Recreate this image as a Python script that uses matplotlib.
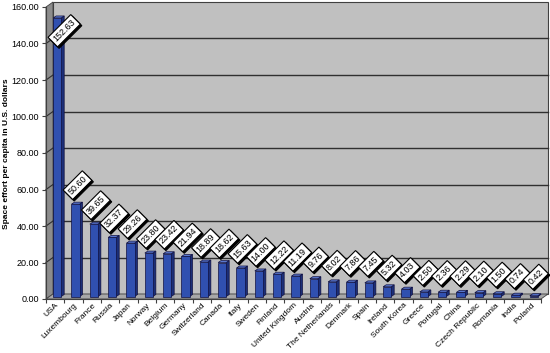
import numpy as np
import matplotlib
matplotlib.use("Agg")
import matplotlib.pyplot as plt
from matplotlib.patches import Polygon, Rectangle
from matplotlib.transforms import offset_copy

countries = ["USA", "Luxembourg", "France", "Russia", "Japan", "Norway", "Belgium",
             "Germany", "Switzerland", "Canada", "Italy", "Sweden", "Finland",
             "United Kingdom", "Austria", "The Netherlands", "Denmark", "Spain",
             "Ireland", "South Korea", "Greece", "Portugal", "China", "Czech Republic",
             "Romania", "India", "Poland"]
values = [152.63, 50.60, 39.65, 32.37, 29.26, 23.80, 23.42, 21.94, 18.89, 18.62,
          15.63, 14.00, 12.22, 11.19, 9.76, 8.02, 7.86, 7.45, 5.32, 4.03, 2.50,
          2.36, 2.29, 2.10, 1.50, 0.74, 0.42]
yticks = [0, 20, 40, 60, 80, 100, 120, 140, 160]

plt.rcParams['font.family'] = ['Liberation Sans', 'DejaVu Sans']

W, H = 550, 353
fig = plt.figure(figsize=(W / 100, H / 100), dpi=100)
x0, x1, yb, yt = 46, 541, 299, 7
ax = fig.add_axes([x0 / W, (H - yb) / H, (x1 - x0) / W, (yb - yt) / H])
n = len(values)
ax.set_xlim(-0.5, n - 0.5)
ax.set_ylim(0, 160)
ax.set_facecolor("none")

# pixel -> data offsets
ux = n / (x1 - x0)
uy = 160 / (yb - yt)
wdx, wdy = 7 * ux, 5 * uy      # wall depth
bdx, bdy = 3 * ux, 2 * uy      # bar depth
lx, ly = 2 * ux, 2.5 * uy      # bar lift into middle of floor

L, R = -0.5, n - 0.5
# back wall, left wall, floor
ax.add_patch(Rectangle((L + wdx, wdy), n, 160, facecolor="#c0c0c0",
                       edgecolor="#404040", lw=0.8, clip_on=False, zorder=0))
ax.add_patch(Polygon([(L, 0), (L, 160), (L + wdx, 160 + wdy), (L + wdx, wdy)],
                     closed=True, facecolor="#8c8c8c", edgecolor="#404040",
                     lw=0.6, clip_on=False, zorder=0.5))
ax.add_patch(Polygon([(L, 0), (R, 0), (R + wdx, wdy), (L + wdx, wdy)],
                     closed=True, facecolor="#a8a8a8", edgecolor="#404040",
                     lw=0.6, clip_on=False, zorder=0.5))
for g in yticks[1:-1]:
    ax.plot([L + wdx, R + wdx], [g + wdy, g + wdy], color="#303030", lw=1.0,
            zorder=0.6, clip_on=False)
    ax.plot([L, L + wdx], [g, g + wdy], color="#303030", lw=0.8,
            zorder=0.6, clip_on=False)

# bars with pseudo 3D faces
xs = np.arange(n)
bw = 0.44
front = "#3050b0"
side = "#1c2f78"
top = "#5a78d0"
edge = "#101040"
for x, v in zip(xs, values):
    bx = x - bw / 2 + lx
    ax.add_patch(Polygon([(bx + bw, ly), (bx + bw, v + ly), (bx + bw + bdx, v + ly + bdy),
                          (bx + bw + bdx, ly + bdy)], closed=True, facecolor=side,
                         edgecolor=edge, lw=0.5, zorder=2, clip_on=False))
    ax.add_patch(Polygon([(bx, v + ly), (bx + bw, v + ly), (bx + bw + bdx, v + ly + bdy),
                          (bx + bdx, v + ly + bdy)], closed=True, facecolor=top,
                         edgecolor=edge, lw=0.5, zorder=2, clip_on=False))
ax.bar(xs + lx, values, width=bw, bottom=ly, color=front, edgecolor=edge, lw=0.5,
       zorder=3)

# data labels with drop shadow
shadow_tr = offset_copy(ax.transData, fig=fig, x=1.5, y=-1.5, units='dots')
for x, v in zip(xs, values):
    ty = min(v + ly + 19 * uy, 147)
    tx = x + lx + (2 if ty > v else 7) * ux
    s = "%.2f" % v
    ax.text(tx, ty, s, transform=shadow_tr, rotation=45, ha='center', va='center',
            fontsize=6.5, color="black", zorder=4,
            bbox=dict(boxstyle="square,pad=0.25", facecolor="black", edgecolor="black", lw=0.8))
    ax.text(tx, ty, s, rotation=45, ha='center', va='center', fontsize=6.5,
            color="black", zorder=5,
            bbox=dict(boxstyle="square,pad=0.25", facecolor="white", edgecolor="black", lw=0.8))

# axes styling
for sp in ["top", "right"]:
    ax.spines[sp].set_visible(False)
ax.spines["left"].set_color("#404040")
ax.spines["bottom"].set_color("#404040")
ax.spines["left"].set_linewidth(0.8)
ax.spines["bottom"].set_linewidth(0.8)
ax.set_yticks(yticks)
ax.set_yticklabels(["%.2f" % t for t in yticks], fontsize=6.5)
ax.tick_params(axis='y', length=3, width=0.8, color="#404040", pad=2)
ax.set_xticks(xs)
ax.set_xticklabels(countries, rotation=45, ha='right', rotation_mode='anchor', fontsize=6.0)
ax.tick_params(axis='x', length=0, pad=2)
ax.set_xticks(np.arange(n + 1) - 0.5, minor=True)
ax.tick_params(axis='x', which='minor', length=3, width=0.8, color="#404040")
fig.text(7 / W, (H - 154) / H, "Space effort per capita in U.S. dollars", rotation=90,
         ha='center', va='center', fontsize=6, fontweight='bold')

fig.savefig("out.png", dpi=100)
